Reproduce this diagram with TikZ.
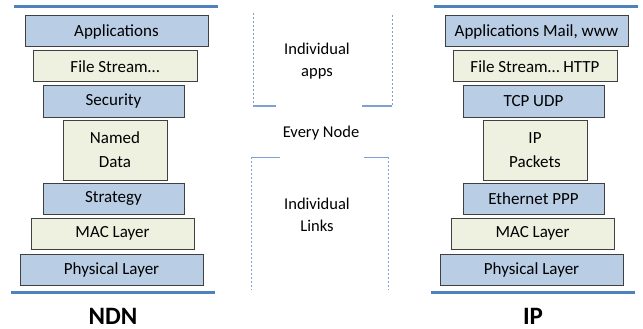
\documentclass[tikz,border=0pt]{standalone}
\usepackage{fontspec}
\setmainfont{Carlito}
\usepackage{tikz}

\definecolor{layerblue}{HTML}{B9CDE5}
\definecolor{layergreen}{HTML}{EEF1E0}
\definecolor{barblue}{HTML}{4F81BD}
\definecolor{linkblue}{HTML}{7EA1CF}

\begin{document}
\begin{tikzpicture}[
  x=1pt, y=-1pt,
  layer/.style={draw=black!75, line width=1pt, minimum height=31pt, inner sep=0pt,
    align=center, font=\fontsize{17}{24}\selectfont},
  bluelayer/.style={layer, fill=layerblue},
  greenlayer/.style={layer, fill=layergreen},
  bar/.style={draw=barblue, line width=3pt},
  bracket/.style={draw=linkblue, line width=0.8pt, dash pattern=on 2pt off 2pt},
  ledge/.style={draw=linkblue, line width=1pt},
  midtext/.style={align=center, font=\fontsize{16.5}{22}\selectfont},
  stacklabel/.style={inner sep=0pt, anchor=base, font=\fontsize{25}{28}\selectfont\bfseries}]
    \useasboundingbox (0,0) rectangle (643,329);
    % NDN stack
    \draw[bar] (14,7) coordinate (ndntop) -- (218,7);
    \node[bluelayer, minimum width=183pt] (ndnapp) at (116.5,31.5) {Applications};
    \node[greenlayer, minimum width=164pt] (ndnfile) at (115,66.5) {File Stream\ldots};
    \node[bluelayer, minimum width=141pt] (ndnsec) at (113.5,101.5) {Security};
    \node[greenlayer, minimum width=104pt, minimum height=60pt] (ndndata) at (115,150) {Named\\Data};
    \node[bluelayer, minimum width=141pt] (ndnstrat) at (113.5,198.5) {Strategy};
    \node[greenlayer, minimum width=163pt] (ndnmac) at (112.5,233.5) {MAC Layer};
    \node[bluelayer, minimum width=183pt] (ndnphy) at (111.5,269.5) {Physical Layer};
    \draw[bar] (11,292) coordinate (ndnbot) -- (215,292);
    \node[stacklabel] (ndn) at (113,324) {NDN};
    % IP stack
    \draw[bar] (434,7) coordinate (iptop) -- (638,7);
    \node[bluelayer, minimum width=183pt] (ipapp) at (536.5,31.5) {Applications Mail, www};
    \node[greenlayer, minimum width=164pt] (ipfile) at (535,66.5) {File Stream\ldots{} HTTP};
    \node[bluelayer, minimum width=141pt] (iptcp) at (533.5,101.5) {TCP UDP};
    \node[greenlayer, minimum width=104pt, minimum height=60pt] (ippkt) at (535,150) {IP\\Packets};
    \node[bluelayer, minimum width=141pt] (ipeth) at (533.5,198.5) {Ethernet PPP};
    \node[greenlayer, minimum width=163pt] (ipmac) at (532.5,233.5) {MAC Layer};
    \node[bluelayer, minimum width=183pt] (ipphy) at (531.5,269.5) {Physical Layer};
    \draw[bar] (431,292) coordinate (ipbot) -- (635,292);
    \node[stacklabel] (ip) at (533,324) {IP};
    % middle brackets
    \node[midtext] (apps) at (317,61) {Individual\\apps};
    \node[midtext] (every) at (321,133) {Every Node};
    \node[midtext] (links) at (317,215) {Individual\\Links};
    \draw[bracket] (253,13) -- (253,106);
    \draw[ledge] (253,106) -- (276,106);
    \draw[bracket] (392,15) -- (392,106);
    \draw[ledge] (362,106) -- (392,106);
    \draw[ledge] (251,157) -- (280,157);
    \draw[bracket] (251,157) -- (251,290);
    \draw[ledge] (364,157) -- (388,157);
    \draw[bracket] (388,157) -- (388,290);
\end{tikzpicture}
\end{document}
